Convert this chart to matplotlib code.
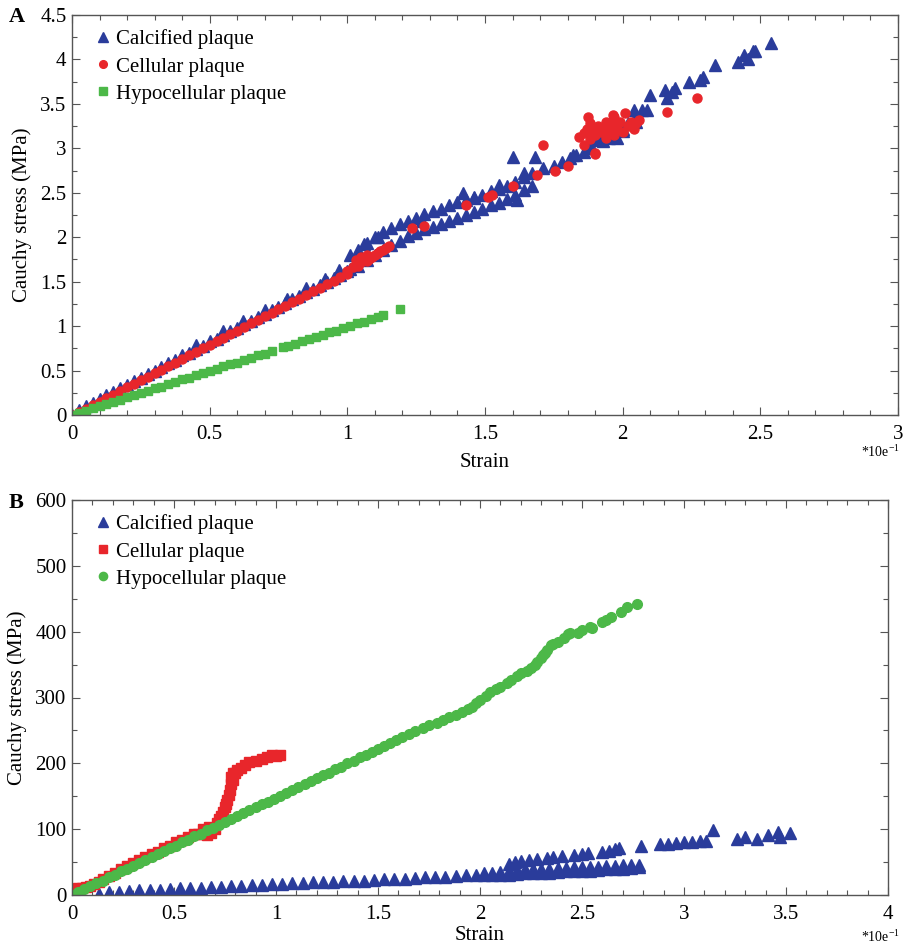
import matplotlib
matplotlib.use("Agg")
import matplotlib.pyplot as plt
from matplotlib.ticker import MultipleLocator, FuncFormatter

plt.rcParams['font.family'] = ['Liberation Serif', 'DejaVu Serif']
plt.rcParams['mathtext.fontset'] = 'custom'
plt.rcParams['mathtext.rm'] = 'Liberation Serif'

# ---------------- Panel A data (strain *10e-1, stress MPa) ----------------
A_cal_x = [0.00, 0.025, 0.05, 0.075, 0.10, 0.125, 0.15, 0.175, 0.20, 0.225,
           0.25, 0.275, 0.30, 0.325, 0.35, 0.375, 0.40, 0.425, 0.45, 0.475,
           0.50, 0.525, 0.55, 0.575, 0.60, 0.625, 0.65, 0.675, 0.70, 0.725,
           0.75, 0.775, 0.80, 0.825, 0.85, 0.875, 0.90, 0.925, 0.95, 0.975, 1.00,
           0.45, 0.55, 0.62, 0.70, 0.78, 0.85, 0.92, 0.97,
           1.01, 1.04, 1.07, 1.10, 1.13, 1.16, 1.19, 1.22, 1.25, 1.28, 1.31, 1.34,
           1.37, 1.40, 1.43, 1.46, 1.49, 1.52, 1.55, 1.58, 1.61, 1.64, 1.67,
           1.01, 1.04, 1.07, 1.10, 1.13, 1.16, 1.19, 1.22, 1.25, 1.28, 1.31, 1.34,
           1.37, 1.40, 1.43, 1.46, 1.49, 1.52, 1.55, 1.58, 1.61, 1.64, 1.67,
           1.06, 1.11, 1.27, 1.42, 1.46, 1.55, 1.60, 1.68, 1.615, 1.71, 1.64,
           1.75, 1.78, 1.81, 1.82, 1.83, 1.86, 1.88, 1.91, 1.93, 1.95, 1.98, 2.00,
           2.02, 2.045, 2.04, 2.07, 2.09, 2.10, 2.154, 2.16, 2.18, 2.19, 2.24, 2.28,
           2.29, 2.336, 2.42, 2.44, 2.455, 2.474, 2.48, 2.54,
           1.88, 1.92, 1.96, 2.00, 2.05]
A_cal_y = [0.00, 0.06, 0.10, 0.14, 0.18, 0.22, 0.26, 0.30, 0.34, 0.38,
           0.42, 0.46, 0.50, 0.54, 0.58, 0.62, 0.67, 0.70, 0.74, 0.78,
           0.83, 0.86, 0.90, 0.94, 0.98, 1.02, 1.06, 1.10, 1.14, 1.18,
           1.22, 1.26, 1.30, 1.34, 1.38, 1.42, 1.46, 1.50, 1.54, 1.58, 1.62,
           0.79, 0.94, 1.06, 1.18, 1.31, 1.43, 1.53, 1.63,
           1.80, 1.86, 1.93, 2.00, 2.06, 2.10, 2.15, 2.18, 2.22, 2.26, 2.29, 2.32,
           2.36, 2.40, 2.42, 2.44, 2.48, 2.52, 2.54, 2.58, 2.62, 2.68, 2.72,
           1.64, 1.68, 1.74, 1.80, 1.86, 1.91, 1.96, 2.01, 2.05, 2.09, 2.12, 2.15,
           2.18, 2.22, 2.25, 2.28, 2.32, 2.36, 2.39, 2.43, 2.47, 2.53, 2.58,
           1.92, 2.00, 2.18, 2.50, 2.45, 2.59, 2.90, 2.90, 2.42, 2.78, 2.72,
           2.80, 2.85, 2.89, 2.92, 2.92, 2.96, 3.00, 3.09, 3.08, 3.12, 3.12, 3.20,
           3.28, 3.34, 3.43, 3.43, 3.43, 3.60, 3.66, 3.57, 3.63, 3.68, 3.75, 3.77,
           3.80, 3.94, 3.97, 4.05, 4.01, 4.09, 4.10, 4.18,
           3.05, 3.10, 3.15, 3.22, 3.30]

A_cel_x = [0.00, 0.025, 0.05, 0.075, 0.10, 0.125, 0.15, 0.175, 0.20, 0.225,
           0.25, 0.275, 0.30, 0.325, 0.35, 0.375, 0.40, 0.425, 0.45, 0.475,
           0.50, 0.525, 0.55, 0.575, 0.60, 0.625, 0.65, 0.675, 0.70, 0.725,
           0.75, 0.775, 0.80, 0.825, 0.85, 0.875, 0.90, 0.925, 0.95, 0.975, 1.00,
           1.00, 1.02, 1.03, 1.04, 1.05, 1.06, 1.07, 1.08, 1.09, 1.10, 1.11, 1.12,
           1.13, 1.14, 1.15, 1.03, 1.05, 1.07,
           1.235, 1.28, 1.43, 1.51, 1.525, 1.60, 1.69, 1.755, 1.80, 1.90, 1.71,
           1.84, 1.86, 1.86, 1.87, 1.88, 1.88, 1.89, 1.90, 1.90, 1.91, 1.92, 1.93,
           1.94, 1.94, 1.95, 1.96, 1.97, 1.97, 1.98, 1.99, 2.00, 2.01, 2.02, 2.03,
           2.04, 2.05, 2.06, 1.875, 1.965, 2.16, 2.27]
A_cel_y = [0.00, 0.035, 0.07, 0.11, 0.15, 0.19, 0.23, 0.27, 0.31, 0.35,
           0.39, 0.43, 0.47, 0.51, 0.55, 0.59, 0.63, 0.67, 0.71, 0.75,
           0.79, 0.83, 0.87, 0.91, 0.95, 0.99, 1.03, 1.07, 1.11, 1.15,
           1.19, 1.23, 1.27, 1.31, 1.35, 1.39, 1.43, 1.47, 1.51, 1.55, 1.59,
           1.62, 1.66, 1.70, 1.68, 1.72, 1.74, 1.73, 1.76, 1.78, 1.80, 1.82, 1.85,
           1.86, 1.88, 1.90, 1.74, 1.78, 1.80,
           2.10, 2.13, 2.36, 2.45, 2.47, 2.58, 2.70, 2.75, 2.80, 2.94, 3.04,
           3.13, 3.04, 3.17, 3.22, 3.10, 3.28, 3.20, 3.15, 2.95, 3.25, 3.18, 3.22,
           3.12, 3.30, 3.20, 3.26, 3.15, 3.35, 3.22, 3.30, 3.18, 3.40, 3.25, 3.30,
           3.22, 3.28, 3.32, 3.35, 3.37, 3.41, 3.57]

A_hyp_x = [0.00, 0.025, 0.05, 0.075, 0.10, 0.125, 0.15, 0.175, 0.20, 0.225,
           0.25, 0.275, 0.30, 0.325, 0.35, 0.375, 0.40, 0.425, 0.45, 0.475,
           0.50, 0.525, 0.55, 0.575, 0.60, 0.625, 0.65, 0.675, 0.70, 0.725,
           0.765, 0.785, 0.81, 0.835, 0.86, 0.885, 0.91, 0.935, 0.96, 0.985,
           1.01, 1.035, 1.06, 1.085, 1.11, 1.13, 1.19]
A_hyp_y = [0.00, 0.025, 0.05, 0.075, 0.10, 0.125, 0.15, 0.17, 0.20, 0.22,
           0.25, 0.27, 0.30, 0.32, 0.35, 0.37, 0.40, 0.42, 0.45, 0.47,
           0.50, 0.52, 0.55, 0.57, 0.59, 0.62, 0.64, 0.67, 0.69, 0.72,
           0.76, 0.78, 0.80, 0.83, 0.85, 0.88, 0.90, 0.93, 0.95, 0.98,
           1.00, 1.03, 1.05, 1.08, 1.10, 1.12, 1.19]

# ---------------- Panel B data (strain *10e-1, stress MPa) ----------------
B_cal_x = [0.13, 0.18, 0.23, 0.28, 0.33, 0.38, 0.43, 0.48, 0.53, 0.58,
           0.63, 0.68, 0.73, 0.78, 0.83, 0.88, 0.93, 0.98, 1.03, 1.08,
           1.13, 1.18, 1.23, 1.28, 1.33, 1.38, 1.43, 1.48, 1.53, 1.58,
           1.63, 1.68, 1.73, 1.78, 1.83, 1.88, 1.93, 1.98,
           2.02, 2.06, 2.10, 2.14, 2.18, 2.22, 2.26, 2.30, 2.34, 2.38,
           2.42, 2.46, 2.50, 2.54, 2.58, 2.62, 2.66, 2.70, 2.74, 2.78,
           2.02, 2.06, 2.10, 2.14, 2.18, 2.22, 2.26, 2.30, 2.34, 2.38,
           2.42, 2.46, 2.50, 2.54, 2.58, 2.62, 2.66, 2.70, 2.74, 2.78,
           2.14, 2.17, 2.20, 2.24, 2.28, 2.33, 2.36, 2.40, 2.46, 2.50,
           2.53, 2.60, 2.63, 2.66, 2.68, 2.79, 2.88, 2.92, 2.96, 3.00,
           3.04, 3.08, 3.11, 3.14, 3.26, 3.30, 3.36, 3.41, 3.46, 3.47, 3.52]
B_cal_y = [2, 4, 5, 6, 7, 7, 8, 9, 10, 10,
           11, 12, 12, 13, 14, 15, 15, 16, 17, 18,
           18, 19, 20, 20, 21, 22, 22, 23, 24, 25,
           25, 26, 27, 28, 28, 29, 30, 31,
           30, 30, 31, 31, 32, 33, 33, 34, 34, 35,
           36, 36, 37, 37, 38, 39, 39, 40, 41, 42,
           33, 34, 35, 37, 38, 39, 39, 40, 40, 41,
           41, 42, 42, 43, 43, 44, 44, 45, 45, 46,
           47, 50, 52, 53, 55, 56, 58, 59, 61, 62,
           64, 66, 67, 70, 72, 74, 77, 78, 79, 80,
           81, 82, 82, 99, 85, 88, 85, 91, 96, 88, 94]

B_cel_x = [0.00, 0.01, 0.02, 0.03, 0.05, 0.07, 0.09, 0.11, 0.13, 0.15,
           0.18, 0.21, 0.24, 0.27, 0.30, 0.33, 0.36, 0.39, 0.42, 0.45,
           0.48, 0.51, 0.54, 0.57, 0.60, 0.62, 0.64, 0.66, 0.68, 0.70,
           0.71, 0.72, 0.73, 0.74, 0.75, 0.755, 0.76, 0.77, 0.775, 0.78,
           0.79, 0.78, 0.79, 0.80, 0.81, 0.83, 0.85, 0.87, 0.90, 0.93,
           0.955, 0.98, 1.00, 1.02, 0.64, 0.67]
B_cel_y = [0, 4, 8, 10, 11, 12, 14, 17, 20, 24,
           29, 34, 39, 44, 49, 53, 57, 62, 66, 71,
           75, 80, 84, 88, 92, 93, 92, 91, 94, 100,
           110, 115, 120, 126, 133, 138, 145, 152, 160, 168,
           175, 180, 185, 186, 190, 193, 197, 202, 204, 207,
           210, 212, 211, 213, 100, 104]

B_hyp_x = [0.00, 0.03, 0.06, 0.09, 0.12, 0.15, 0.18, 0.21, 0.24, 0.27,
           0.30, 0.33, 0.36, 0.39, 0.42, 0.45, 0.48, 0.51, 0.54, 0.57,
           0.60, 0.63, 0.66, 0.69, 0.72, 0.75, 0.78, 0.81, 0.84, 0.87,
           0.90, 0.93, 0.96, 0.99, 1.02, 1.05, 1.08, 1.11, 1.14, 1.17,
           1.20, 1.23, 1.26, 1.29, 1.32, 1.35, 1.38, 1.41, 1.44, 1.47,
           1.50, 1.53, 1.56, 1.59, 1.62, 1.65, 1.68,
           1.72, 1.75, 1.79, 1.82, 1.85, 1.88, 1.91, 1.94, 1.96, 1.98,
           2.00, 2.03, 2.05, 2.08, 2.10, 2.13, 2.15, 2.18, 2.20, 2.23,
           2.25, 2.27, 2.28, 2.30, 2.31, 2.32, 2.33, 2.35, 2.36, 2.38,
           2.41, 2.43, 2.44, 2.48, 2.50, 2.54, 2.55, 2.60, 2.62, 2.64,
           2.69, 2.72, 2.77]
B_hyp_y = [0, 4, 9, 13, 18, 22, 27, 31, 36, 40,
           44, 49, 53, 58, 62, 67, 71, 75, 80, 84,
           89, 93, 98, 102, 107, 111, 115, 120, 124, 129,
           133, 138, 142, 146, 151, 155, 160, 164, 169, 173,
           178, 182, 186, 191, 195, 200, 204, 209, 213, 217,
           222, 226, 231, 235, 240, 244, 249,
           254, 258, 261, 266, 271, 274, 278, 283, 286, 291,
           296, 302, 309, 313, 316, 322, 327, 332, 337, 341,
           345, 350, 354, 360, 365, 368, 372, 380, 382, 385,
           390, 396, 398, 398, 403, 407, 406, 415, 418, 423,
           430, 438, 442]

labels = ["Calcified plaque", "Cellular plaque", "Hypocellular plaque"]

BLUE = "#2a3c9b"
RED = "#e8262b"
GREEN = "#4cb848"

W, H = 904, 949
fig = plt.figure(figsize=(W / 100, H / 100), dpi=100)
axA = fig.add_axes([72 / W, 1 - 415 / H, (898 - 72) / W, (415 - 15) / H])
axB = fig.add_axes([72 / W, 1 - 895 / H, (888 - 72) / W, (895 - 500) / H])

fmt = FuncFormatter(lambda v, p: "%g" % round(v, 6))

axA.plot(A_cal_x, A_cal_y, ls="none", marker="^", ms=9, color=BLUE, mec=BLUE, label=labels[0])
axA.plot(A_cel_x, A_cel_y, ls="none", marker="o", ms=6.5, color=RED, mec=RED, label=labels[1])
axA.plot(A_hyp_x, A_hyp_y, ls="none", marker="s", ms=6, color=GREEN, mec=GREEN, label=labels[2])

axB.plot(B_cal_x, B_cal_y, ls="none", marker="^", ms=8.5, color=BLUE, mec=BLUE, label=labels[0])
axB.plot(B_cel_x, B_cel_y, ls="none", marker="s", ms=7, color=RED, mec=RED, label=labels[1])
axB.plot(B_hyp_x, B_hyp_y, ls="none", marker="o", ms=7, color=GREEN, mec=GREEN, label=labels[2])

axA.set_xlim(0, 3)
axA.set_ylim(0, 4.5)
axA.xaxis.set_major_locator(MultipleLocator(0.5))
axA.xaxis.set_minor_locator(MultipleLocator(0.1))
axA.yaxis.set_major_locator(MultipleLocator(0.5))
axA.yaxis.set_minor_locator(MultipleLocator(0.25))

axB.set_xlim(0, 4)
axB.set_ylim(0, 600)
axB.xaxis.set_major_locator(MultipleLocator(0.5))
axB.xaxis.set_minor_locator(MultipleLocator(0.1))
axB.yaxis.set_major_locator(MultipleLocator(100))
axB.yaxis.set_minor_locator(MultipleLocator(50))

for ax, lp in ((axA, 7), (axB, 2)):
    ax.xaxis.set_major_formatter(fmt)
    ax.yaxis.set_major_formatter(fmt)
    ax.tick_params(which="both", direction="in", top=True, right=True,
                   labelsize=15, colors="#555555", labelcolor="black")
    ax.tick_params(which="major", length=6, width=0.8)
    ax.tick_params(which="minor", length=3.5, width=0.8)
    ax.tick_params(axis="x", pad=7)
    ax.tick_params(axis="y", pad=4)
    for s in ax.spines.values():
        s.set_color("#555555")
        s.set_linewidth(1.0)
    ax.set_xlabel("Strain", fontsize=15, labelpad=lp)
    ax.set_ylabel("Cauchy stress (MPa)", fontsize=15, labelpad=6)
    ax.legend(loc="upper left", bbox_to_anchor=(0.01, 1.0), frameon=False,
              fontsize=15, handlelength=0.8, handletextpad=0.2,
              labelspacing=0.36, borderaxespad=0.4, borderpad=0.3,
              markerscale=0.85)

fig.text(9 / W, 1 - 17 / H, "A", fontsize=16, fontweight="bold", va="center", ha="left")
fig.text(9 / W, 1 - 503 / H, "B", fontsize=16, fontweight="bold", va="center", ha="left")
fig.text(900 / W, 1 - 452 / H, r"*10e$^{-1}$", fontsize=10, va="center", ha="right")
fig.text(900 / W, 1 - 937 / H, r"*10e$^{-1}$", fontsize=10, va="center", ha="right")

fig.savefig("out.png", dpi=100)
